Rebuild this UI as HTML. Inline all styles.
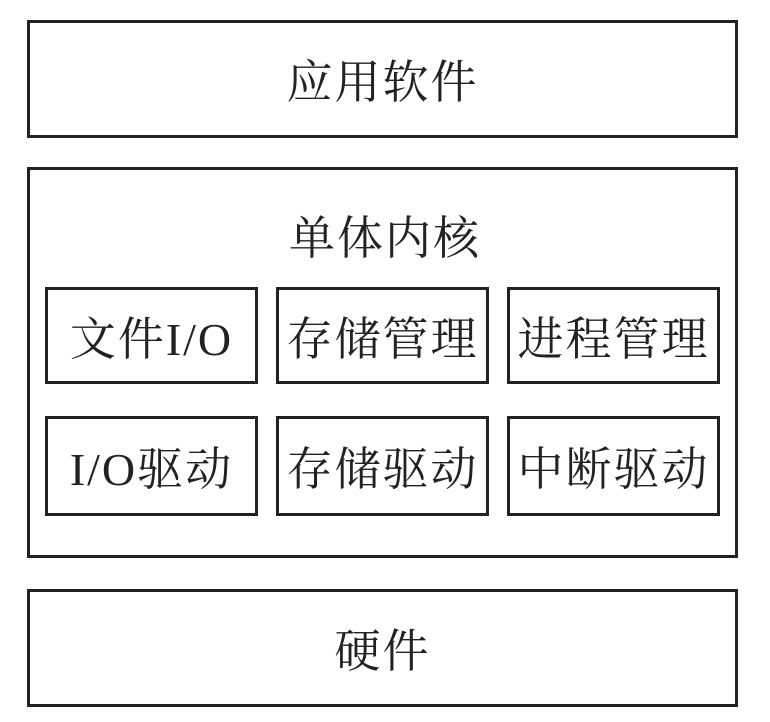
<!DOCTYPE html>
<html><head><meta charset="utf-8"><style>
body{margin:0;width:770px;height:722px;background:#fff;position:relative;overflow:hidden;font-family:"Liberation Serif","Noto Serif CJK SC",serif;color:#222}
.b{position:absolute;box-sizing:border-box;border:3px solid #222;display:flex;align-items:center;justify-content:center;font-size:46px;letter-spacing:2px;white-space:nowrap}
.t{position:absolute;font-size:46px;letter-spacing:2px;left:0;width:770px;text-align:center}
</style></head><body>
<div class="b" style="left:27px;top:20px;width:711px;height:118px">应用软件</div>
<div class="b" style="left:27px;top:167px;width:711px;height:391px"></div>
<div class="t" style="top:209px;line-height:60px">单体内核</div>
<div class="b" style="left:45px;top:287px;width:213px;height:97px">文件I/O</div>
<div class="b" style="left:276px;top:287px;width:213px;height:97px">存储管理</div>
<div class="b" style="left:507px;top:287px;width:213px;height:97px">进程管理</div>
<div class="b" style="left:45px;top:416px;width:213px;height:100px">I/O驱动</div>
<div class="b" style="left:276px;top:416px;width:213px;height:100px">存储驱动</div>
<div class="b" style="left:507px;top:416px;width:213px;height:100px">中断驱动</div>
<div class="b" style="left:27px;top:589px;width:711px;height:118px">硬件</div>
</body></html>
